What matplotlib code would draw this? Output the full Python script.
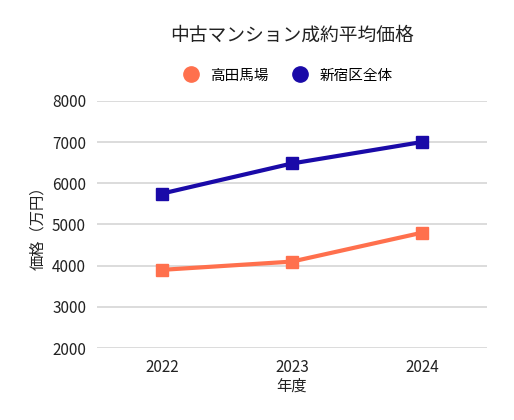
import matplotlib
matplotlib.use("Agg")
import matplotlib.pyplot as plt
from matplotlib.lines import Line2D

plt.rcParams['font.family'] = ['Noto Sans CJK JP', 'DejaVu Sans']

years = [2022, 2023, 2024]
takadanobaba = [3900, 4100, 4800]
shinjuku = [5750, 6480, 7000]
series_names = ['高田馬場', '新宿区全体']
colors = ['#FF704D', '#1A0AA8']

fig = plt.figure(figsize=(5.14, 4.2), dpi=100)
ax = fig.add_axes([0.189, 0.171, 0.758, 0.589])

for vals, name, c in zip([takadanobaba, shinjuku], series_names, colors):
    ax.plot(years, vals, color=c, lw=3, marker='s', ms=9, label=name)

ax.set_xlim(2021.5, 2024.5)
ax.set_ylim(2000, 8000)
ax.set_xticks(years)
ax.set_xticklabels([str(y) for y in years])
ax.set_yticks(range(2000, 8001, 1000))
ax.grid(axis='y', color='#d9d9d9', lw=1.3)
ax.set_axisbelow(True)
for s in ax.spines.values():
    s.set_visible(False)
ax.tick_params(length=0, labelsize=11, colors='#222222', pad=8)

ax.set_xlabel('年度', fontsize=11, color='#222222', labelpad=1)
ax.set_ylabel('価格（万円）', fontsize=11, color='#222222', labelpad=4)

fig.text(0.568, 0.915, '中古マンション成約平均価格', ha='center', va='center',
         fontsize=13.5, color='#222222')

handles = [Line2D([], [], ls='none', marker='o', ms=11, color=c) for c in colors]
fig.legend(handles, series_names, loc='center', bbox_to_anchor=(0.553, 0.82),
           ncol=2, frameon=False, fontsize=10.5, handletextpad=0.3,
           columnspacing=1.2)

fig.savefig('out.png', dpi=100)
